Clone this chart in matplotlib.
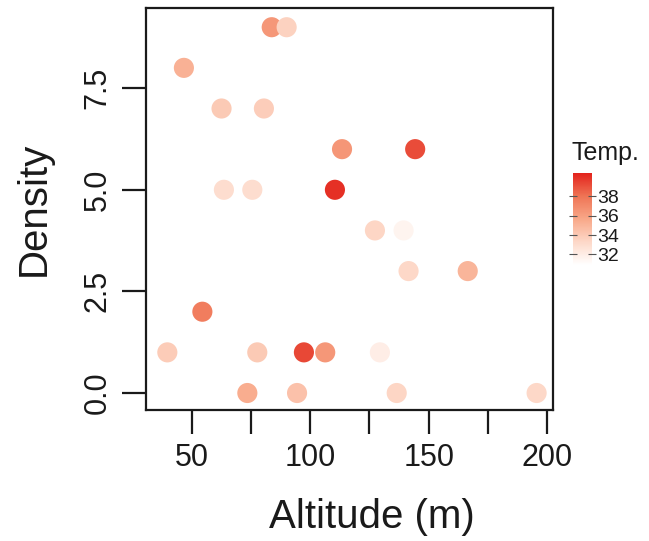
import numpy as np
import matplotlib.pyplot as plt
from matplotlib.colors import LinearSegmentedColormap

plt.rcParams['font.family'] = ['Liberation Sans', 'DejaVu Sans']

# altitude (m), density, temperature
altitude = [83.7, 90.0, 46.6, 62.5, 80.4, 113.4, 144.3, 63.5, 75.5, 110.4,
            127.3, 139.4, 141.5, 166.5, 54.4, 39.6, 77.6, 97.3, 106.3, 129.4,
            73.4, 94.4, 136.5, 195.6]
density = [9, 9, 8, 7, 7, 6, 6, 5, 5, 5,
           4, 4, 3, 3, 2, 1, 1, 1, 1, 1,
           0, 0, 0, 0]
temp = [36.4, 33.6, 35.2, 34.0, 33.8, 36.5, 39.2, 33.0, 33.0, 40.0,
        33.4, 31.6, 33.3, 35.0, 37.6, 33.9, 34.0, 39.3, 36.4, 32.0,
        35.4, 34.4, 33.4, 33.3]

xticks = [50, 75, 100, 125, 150, 175, 200]
xlabels = ['50', '', '100', '', '150', '', '200']
yticks = [0.0, 2.5, 5.0, 7.5]
cbticks = [32, 34, 36, 38]

# white -> red, with salmon mid tones
cmap = LinearSegmentedColormap.from_list(
    'wr', [(0.0, '#ffffff'), (0.25, '#fdd8c8'), (0.5, '#f8a889'),
           (0.75, '#ef7455'), (1.0, '#e3231c')])

fig = plt.figure(figsize=(6.49, 5.41), dpi=100)
ax = fig.add_axes([0.225, 0.242, 0.627, 0.743])
sc = ax.scatter(altitude, density, c=temp, cmap=cmap, vmin=30.9, vmax=40.4,
                s=210, edgecolors='none')

ax.set_xlim(30.6, 202.5)
ax.set_ylim(-0.42, 9.47)
ax.set_xticks(xticks)
ax.set_xticklabels(xlabels)
ax.set_yticks(yticks)
ax.set_yticklabels([f'{v:.1f}' for v in yticks], rotation=90, va='center')
for s in ax.spines.values():
    s.set_linewidth(1.6)
    s.set_color('#1a1a1a')
ax.tick_params(length=17, width=1.6, color='#1a1a1a', labelsize=22,
               labelcolor='#1a1a1a', pad=7)

ax.set_xlabel('Altitude (m)', fontsize=29, color='#1a1a1a')
ax.xaxis.set_label_coords(0.555, -0.218)
ax.set_ylabel('Density', fontsize=29, color='#1a1a1a')
ax.yaxis.set_label_coords(-0.228, 0.5)

cax = fig.add_axes([0.883, 0.510, 0.029, 0.170])
cb = fig.colorbar(sc, cax=cax, ticks=cbticks)
cb.outline.set_visible(False)
cax.yaxis.set_ticks_position('both')
cax.tick_params(length=6, width=0.8, direction='inout', color='#555555',
                labelsize=14, labelcolor='#1a1a1a', pad=1)
fig.text(0.881, 0.695, 'Temp.', fontsize=18, color='#1a1a1a', ha='left', va='bottom')

fig.savefig('out.png', dpi=100)
